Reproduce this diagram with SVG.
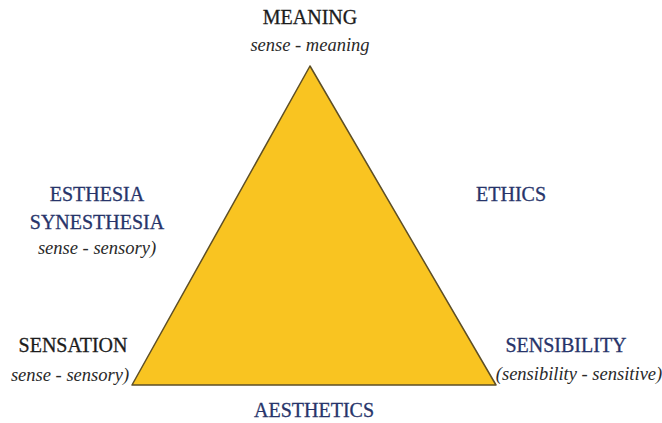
<svg xmlns="http://www.w3.org/2000/svg" width="662" height="423" viewBox="0 0 662 423">
<style>
.t{font-family:"Liberation Serif","Times New Roman",serif;font-size:20px;text-anchor:middle;stroke-width:0.3}
.k{fill:#1c1c1c;stroke:#1c1c1c}
.b{fill:#27346a;stroke:#27346a}
.i{font-family:"Liberation Serif","Times New Roman",serif;font-size:18.5px;font-style:italic;fill:#2a2a2a;text-anchor:middle}
</style>
<rect width="662" height="423" fill="#ffffff"/>
<g id="triangle">
<polygon points="310,66 132,385 496,385" fill="#F9C421" stroke="#5e4f26" stroke-width="1.5" stroke-linejoin="round"/>
</g>
<g id="meaning">
<text class="t k" x="310" y="24">MEANING</text>
<text class="i" x="310" y="51">sense - meaning</text>
</g>
<g id="esthesia">
<text class="t b" x="97" y="201">ESTHESIA</text>
<text class="t b" x="97" y="229">SYNESTHESIA</text>
<text class="i" x="97" y="254">sense - sensory)</text>
</g>
<g id="ethics">
<text class="t b" x="511" y="201">ETHICS</text>
</g>
<g id="sensation">
<text class="t k" x="73" y="352">SENSATION</text>
<text class="i" x="70" y="381">sense - sensory)</text>
</g>
<g id="sensibility">
<text class="t b" x="566" y="352">SENSIBILITY</text>
<text class="i" x="579" y="380">(sensibility - sensitive)</text>
</g>
<g id="aesthetics">
<text class="t b" x="314" y="417">AESTHETICS</text>
</g>
<g id="connectors"></g>
</svg>
